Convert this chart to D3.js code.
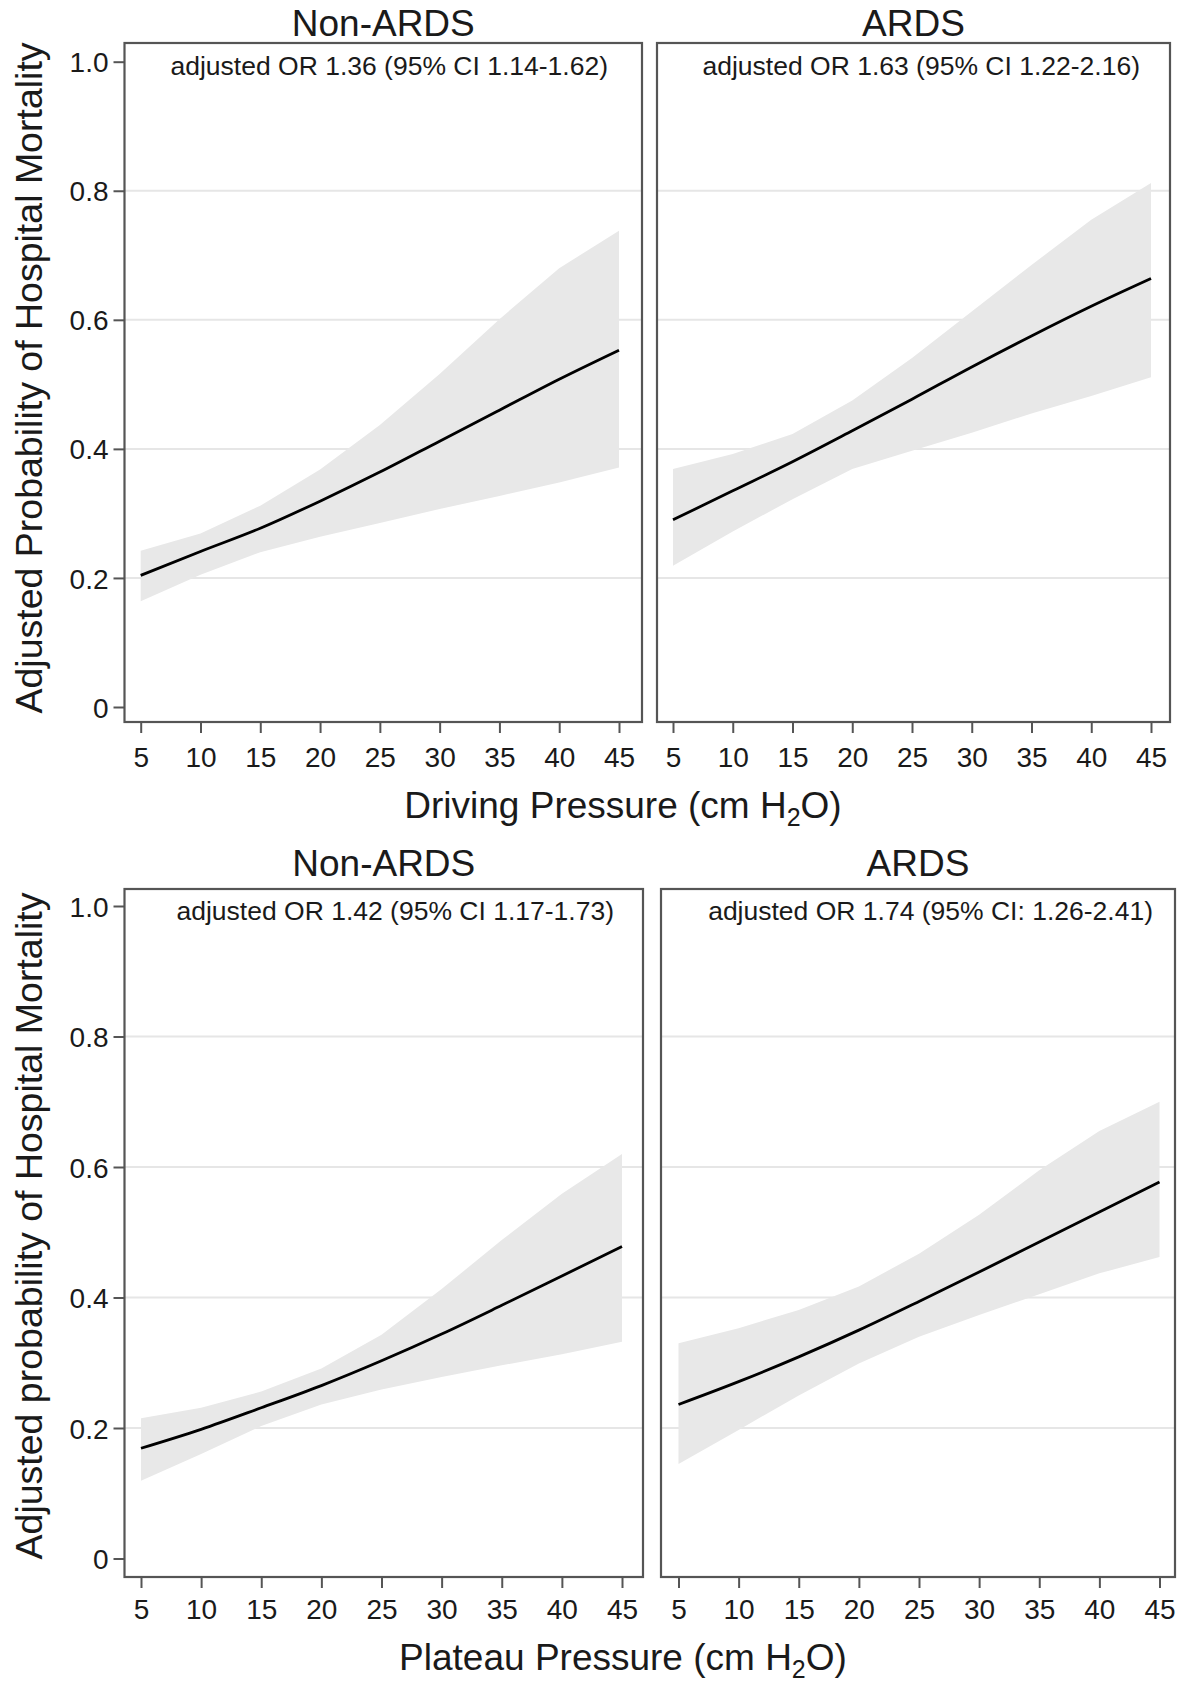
<!DOCTYPE html>
<html>
<head>
<meta charset="utf-8">
<script src="https://cdn.jsdelivr.net/npm/d3@7"></script>
<style>
  html, body { margin: 0; padding: 0; background: #fff; }
  svg { display: block; font-family: "Liberation Sans", Arial, sans-serif; }
</style>
</head>
<body>
<svg id="chart" width="1181" height="1683"></svg>
<script>
// ---------------- DATA ----------------
const pressures = [5, 10, 15, 20, 25, 30, 35, 40, 45];
const xTickLabels = ["5", "10", "15", "20", "25", "30", "35", "40", "45"];
const yTickValues = [0, 0.2, 0.4, 0.6, 0.8, 1.0];
const yTickLabels = ["0", "0.2", "0.4", "0.6", "0.8", "1.0"];
const gridValues = [0.2, 0.4, 0.6, 0.8];

const panelTitles = ["Non-ARDS", "ARDS", "Non-ARDS", "ARDS"];
const annotations = [
  "adjusted OR 1.36 (95% CI 1.14-1.62)",
  "adjusted OR 1.63 (95% CI 1.22-2.16)",
  "adjusted OR 1.42 (95% CI 1.17-1.73)",
  "adjusted OR 1.74 (95% CI: 1.26-2.41)"
];
const xTitles = ["Driving Pressure (cm H", "Plateau Pressure (cm H"];
const yTitles = ["Adjusted Probability of Hospital Mortality", "Adjusted probability of Hospital Mortality"];

// Driving pressure, Non-ARDS
const drivingNonArdsFit   = [0.204, 0.241, 0.277, 0.319, 0.364, 0.412, 0.460, 0.508, 0.553];
const drivingNonArdsUpper = [0.242, 0.269, 0.312, 0.368, 0.437, 0.516, 0.601, 0.680, 0.738];
const drivingNonArdsLower = [0.164, 0.205, 0.240, 0.264, 0.285, 0.307, 0.327, 0.348, 0.371];
// Driving pressure, ARDS
const drivingArdsFit   = [0.290, 0.335, 0.380, 0.428, 0.477, 0.527, 0.575, 0.621, 0.664];
const drivingArdsUpper = [0.369, 0.392, 0.423, 0.475, 0.541, 0.613, 0.685, 0.755, 0.812];
const drivingArdsLower = [0.219, 0.272, 0.322, 0.369, 0.397, 0.425, 0.455, 0.482, 0.511];
// Plateau pressure, Non-ARDS
const plateauNonArdsFit   = [0.169, 0.198, 0.231, 0.265, 0.303, 0.344, 0.388, 0.433, 0.478];
const plateauNonArdsUpper = [0.215, 0.231, 0.256, 0.291, 0.343, 0.413, 0.488, 0.559, 0.620];
const plateauNonArdsLower = [0.119, 0.160, 0.203, 0.236, 0.259, 0.278, 0.296, 0.313, 0.332];
// Plateau pressure, ARDS
const plateauArdsFit   = [0.236, 0.271, 0.309, 0.350, 0.394, 0.439, 0.485, 0.531, 0.577];
const plateauArdsUpper = [0.330, 0.353, 0.381, 0.417, 0.467, 0.527, 0.595, 0.655, 0.700];
const plateauArdsLower = [0.145, 0.197, 0.250, 0.299, 0.340, 0.373, 0.405, 0.437, 0.462];

const series = [
  { fit: drivingNonArdsFit, upper: drivingNonArdsUpper, lower: drivingNonArdsLower },
  { fit: drivingArdsFit, upper: drivingArdsUpper, lower: drivingArdsLower },
  { fit: plateauNonArdsFit, upper: plateauNonArdsUpper, lower: plateauNonArdsLower },
  { fit: plateauArdsFit, upper: plateauArdsUpper, lower: plateauArdsLower }
];

// ---------------- LAYOUT ----------------
const rows = [
  { boxTop: 43, boxBottom: 722, yOne: 61.7, yZero: 707, titleY: 35.5, annY: 75, tickLabelY: 767, xTitleY: 818, yTitleCenter: 378 },
  { boxTop: 889, boxBottom: 1577, yOne: 906, yZero: 1558.5, titleY: 876, annY: 920, tickLabelY: 1619, xTitleY: 1670, yTitleCenter: 1226 }
];
const panels = [
  { row: 0, left: 124.5, right: 642, x5: 140.7, x45: 619, annRight: 608 },
  { row: 0, left: 657, right: 1170, x5: 673, x45: 1151, annRight: 1140 },
  { row: 1, left: 124.5, right: 643, x5: 141, x45: 622, annRight: 614 },
  { row: 1, left: 661, right: 1175, x5: 678.5, x45: 1159.5, annRight: 1153 }
];

const svg = d3.select("#chart");
const boxColor = "#555555";
const gridColor = "#e6e6e6";
const bandColor = "#e8e8e8";
const textColor = "#1a1a1a";

panels.forEach((p, i) => {
  const r = rows[p.row];
  const x = d3.scaleLinear().domain([5, 45]).range([p.x5, p.x45]);
  const y = d3.scaleLinear().domain([0, 1]).range([r.yZero, r.yOne]);
  const g = svg.append("g");
  const s = series[i];
  const pts = pressures.map((v, k) => ({ x: v, fit: s.fit[k], up: s.upper[k], lo: s.lower[k] }));

  // grid lines
  g.selectAll(".grid").data(gridValues).join("line")
    .attr("x1", p.left).attr("x2", p.right)
    .attr("y1", d => y(d)).attr("y2", d => y(d))
    .attr("stroke", gridColor).attr("stroke-width", 2);

  // CI band
  const area = d3.area().x(d => x(d.x)).y0(d => y(d.lo)).y1(d => y(d.up)).curve(d3.curveLinear);
  g.append("path").datum(pts).attr("d", area).attr("fill", bandColor);

  // fitted line
  const line = d3.line().x(d => x(d.x)).y(d => y(d.fit)).curve(d3.curveMonotoneX);
  g.append("path").datum(pts).attr("d", line)
    .attr("fill", "none").attr("stroke", "#000").attr("stroke-width", 2.8);

  // box
  g.append("rect")
    .attr("x", p.left).attr("y", r.boxTop)
    .attr("width", p.right - p.left).attr("height", r.boxBottom - r.boxTop)
    .attr("fill", "none").attr("stroke", boxColor).attr("stroke-width", 2.2);

  // x axis
  const xAxis = d3.axisBottom(x).tickValues(pressures)
    .tickFormat((d, k) => xTickLabels[k]).tickSize(11).tickPadding(0);
  const xg = g.append("g").attr("transform", `translate(0,${r.boxBottom})`).call(xAxis);
  xg.select(".domain").remove();
  xg.selectAll(".tick line").attr("stroke", boxColor).attr("stroke-width", 2);
  xg.selectAll(".tick text")
    .attr("y", r.tickLabelY - r.boxBottom).attr("dy", 0)
    .attr("font-size", 28).attr("fill", textColor)
    .attr("font-family", '"Liberation Sans", Arial, sans-serif');

  // y axis (left panels only)
  if (i % 2 === 0) {
    const yAxis = d3.axisLeft(y).tickValues(yTickValues)
      .tickFormat((d, k) => yTickLabels[k]).tickSize(11).tickPadding(5);
    const yg = g.append("g").attr("transform", `translate(${p.left},0)`).call(yAxis);
    yg.select(".domain").remove();
    yg.selectAll(".tick line").attr("stroke", boxColor).attr("stroke-width", 2);
    yg.selectAll(".tick text")
      .attr("font-size", 28).attr("fill", textColor).attr("dy", "0.36em")
      .attr("font-family", '"Liberation Sans", Arial, sans-serif');
  }

  // panel title
  g.append("text")
    .attr("x", (p.left + p.right) / 2).attr("y", r.titleY)
    .attr("text-anchor", "middle").attr("font-size", 37).attr("fill", textColor)
    .text(panelTitles[i]);

  // annotation
  g.append("text")
    .attr("x", p.annRight).attr("y", r.annY)
    .attr("text-anchor", "end").attr("font-size", 26.5).attr("fill", textColor)
    .text(annotations[i]);
});

// axis titles per row
rows.forEach((r, k) => {
  const t = svg.append("text")
    .attr("x", 623).attr("y", r.xTitleY)
    .attr("text-anchor", "middle").attr("font-size", 37).attr("fill", textColor);
  t.append("tspan").text(xTitles[k]);
  t.append("tspan").attr("font-size", 25).attr("dy", 8).text("2");
  t.append("tspan").attr("dy", -8).text("O)");

  svg.append("text")
    .attr("transform", `translate(42,${r.yTitleCenter}) rotate(-90)`)
    .attr("text-anchor", "middle").attr("font-size", 37.5).attr("fill", textColor)
    .text(yTitles[k]);
});
</script>
</body>
</html>
